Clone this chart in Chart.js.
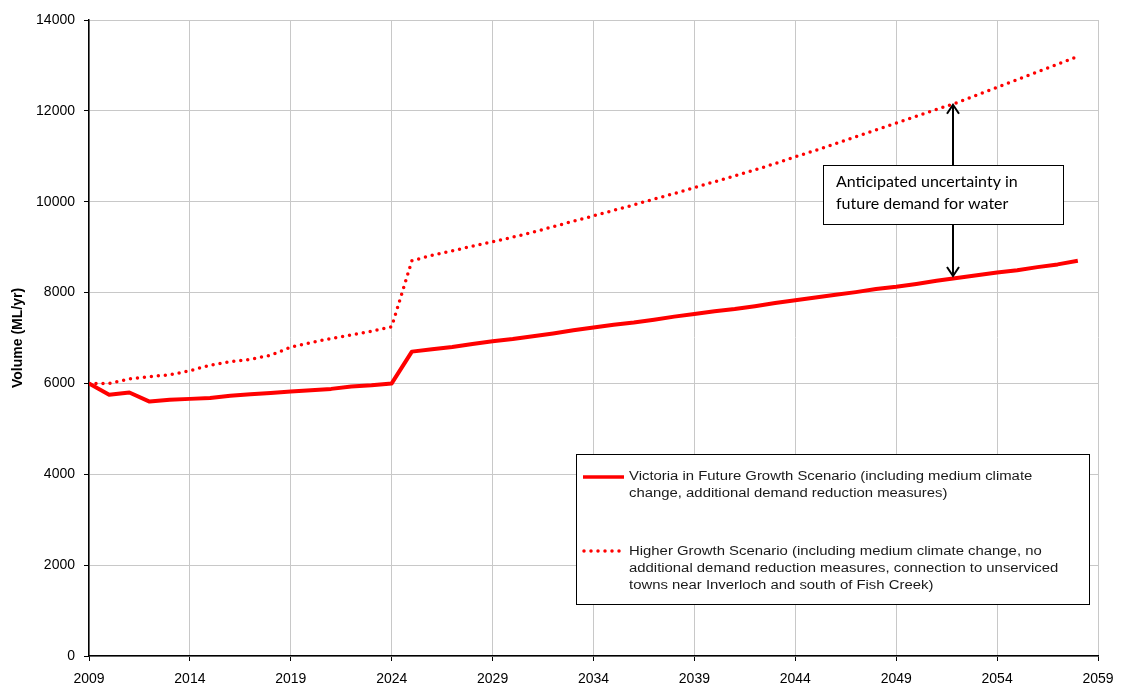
<!DOCTYPE html>
<html>
<head>
<meta charset="utf-8">
<script src="https://cdn.jsdelivr.net/npm/chart.js@4/dist/chart.umd.min.js"></script>
<style>
  html, body { margin: 0; padding: 0; background: #fff; }
  #wrap { width: 1126px; height: 690px; }
</style>
</head>
<body>
<div id="wrap"><canvas id="chart" width="1126" height="690"></canvas></div>
<script>
const years = [];
for (let y = 2009; y <= 2058; y++) years.push(y);

const victoriaGrowth = [6000, 5750, 5800, 5600, 5640, 5660, 5680, 5730, 5760, 5790,
  5820, 5850, 5880, 5930, 5960, 6000, 6700, 6750, 6800, 6870,
  6930, 6980, 7040, 7100, 7170, 7230, 7290, 7340, 7400, 7470,
  7530, 7590, 7640, 7700, 7770, 7830, 7890, 7950, 8010, 8080,
  8130, 8190, 8260, 8320, 8380, 8440, 8490, 8560, 8620, 8700];

const higherGrowth = [6000, 6000, 6100, 6150, 6190, 6280, 6400, 6480, 6530, 6620,
  6800, 6900, 6990, 7070, 7150, 7250, 8700, 8820, 8920, 9020,
  9120, 9220, 9330, 9450, 9570, 9690, 9810, 9930, 10060, 10180,
  10310, 10440, 10570, 10700, 10840, 10990, 11130, 11280, 11430, 11580,
  11730, 11880, 12030, 12180, 12350, 12520, 12690, 12860, 13030, 13200];

const legendVictoria = ['Victoria in Future Growth Scenario (including medium climate',
  'change, additional demand reduction measures)'];
const legendHigher = ['Higher Growth Scenario (including medium climate change, no',
  'additional demand reduction measures, connection to unserviced',
  'towns near Inverloch and south of Fish Creek)'];
const noteText = ['Anticipated uncertainty in', 'future demand for water'];
const noteYear = 2052;

const toPoints = vals => years.map((y, i) => ({ x: y, y: vals[i] }));

// the source picture is stretched sideways, so legend text gets a wider x scale
function wideText(c, t, x, y, sx) {
  c.save();
  c.translate(x, y);
  c.scale(sx, 1);
  c.fillText(t, 0, 0);
  c.restore();
}

const overlay = {
  id: 'overlay',
  afterDraw(chart) {
    const c = chart.ctx, xs = chart.scales.x, ys = chart.scales.y;
    c.save();
    // legend box
    const lx = 576, ly = 454, lw = 513, lh = 150;
    c.fillStyle = '#fff';
    c.fillRect(lx, ly, lw, lh);
    c.strokeStyle = '#000';
    c.lineWidth = 1;
    c.strokeRect(lx + 0.5, ly + 0.5, lw, lh);
    c.strokeStyle = '#ff0000';
    c.lineWidth = 3.5;
    c.beginPath(); c.moveTo(583, 477); c.lineTo(624, 477); c.stroke();
    c.setLineDash([0, 7]);
    c.lineCap = 'round';
    c.beginPath(); c.moveTo(584, 551); c.lineTo(624, 551); c.stroke();
    c.setLineDash([]);
    c.lineCap = 'butt';
    c.fillStyle = '#1a1a1a';
    c.font = '12px "Liberation Sans", Arial, sans-serif';
    c.textBaseline = 'middle';
    legendVictoria.forEach((t, i) => wideText(c, t, 629, 477 + i * 17, 1.24));
    legendHigher.forEach((t, i) => wideText(c, t, 629, 552 + i * 17, 1.24));

    // annotation with arrows
    const ax = Math.round(xs.getPixelForValue(noteYear)) - 4;
    const idx = years.indexOf(noteYear);
    const topY = ys.getPixelForValue(higherGrowth[idx]) + 2;
    const botY = ys.getPixelForValue(victoriaGrowth[idx]) - 2;
    const bx = 823, by = 165, bw = 240, bh = 59;
    c.strokeStyle = '#000';
    c.lineWidth = 2;
    c.beginPath();
    c.moveTo(ax, by); c.lineTo(ax, topY);
    c.moveTo(ax - 6, topY + 9); c.lineTo(ax, topY); c.lineTo(ax + 6, topY + 9);
    c.moveTo(ax, by + bh); c.lineTo(ax, botY);
    c.moveTo(ax - 6, botY - 9); c.lineTo(ax, botY); c.lineTo(ax + 6, botY - 9);
    c.stroke();
    c.fillStyle = '#fff';
    c.fillRect(bx, by, bw, bh);
    c.lineWidth = 1;
    c.strokeRect(bx + 0.5, by + 0.5, bw, bh);
    c.fillStyle = '#000';
    c.font = '16px Lato, "Open Sans", sans-serif';
    noteText.forEach((t, i) => c.fillText(t, 836, 182 + i * 22));
    c.restore();
  }
};

new Chart(document.getElementById('chart').getContext('2d'), {
  type: 'line',
  data: {
    datasets: [{
      label: legendVictoria.join(' '),
      data: toPoints(victoriaGrowth),
      borderColor: '#ff0000',
      borderWidth: 4,
      pointRadius: 0,
      tension: 0,
      borderJoinStyle: 'round'
    }, {
      label: legendHigher.join(' '),
      data: toPoints(higherGrowth),
      borderColor: '#ff0000',
      borderWidth: 3.5,
      borderDash: [0, 7],
      borderCapStyle: 'round',
      pointRadius: 0,
      tension: 0
    }]
  },
  options: {
    responsive: false,
    animation: false,
    layout: { padding: { top: 20, right: 28, left: 0, bottom: 0 } },
    scales: {
      x: {
        type: 'linear',
        min: 2009,
        max: 2059,
        afterFit: s => { s.height = 34; },
        ticks: {
          stepSize: 5,
          color: '#000',
          font: { family: '"Liberation Sans", Arial', size: 14 },
          padding: 10,
          maxRotation: 0,
          callback: v => String(v)
        },
        grid: { color: '#c8c8c8', tickColor: '#000', tickLength: 5 },
        border: { color: '#000', width: 1.5 }
      },
      y: {
        min: 0,
        max: 14000,
        afterFit: s => { s.width = 89; },
        ticks: {
          stepSize: 2000,
          color: '#000',
          font: { family: '"Liberation Sans", Arial', size: 14 },
          padding: 9,
          callback: v => String(v)
        },
        grid: { color: '#c8c8c8', tickColor: '#000', tickLength: 5 },
        border: { color: '#000', width: 1.5 },
        title: {
          display: true,
          text: 'Volume (ML/yr)',
          color: '#000',
          font: { family: '"Liberation Sans", Arial', size: 14, weight: 'bold' },
          padding: { top: 10, bottom: 4 }
        }
      }
    },
    plugins: {
      legend: { display: false },
      tooltip: { enabled: false }
    }
  },
  plugins: [overlay]
});
</script>
</body>
</html>
